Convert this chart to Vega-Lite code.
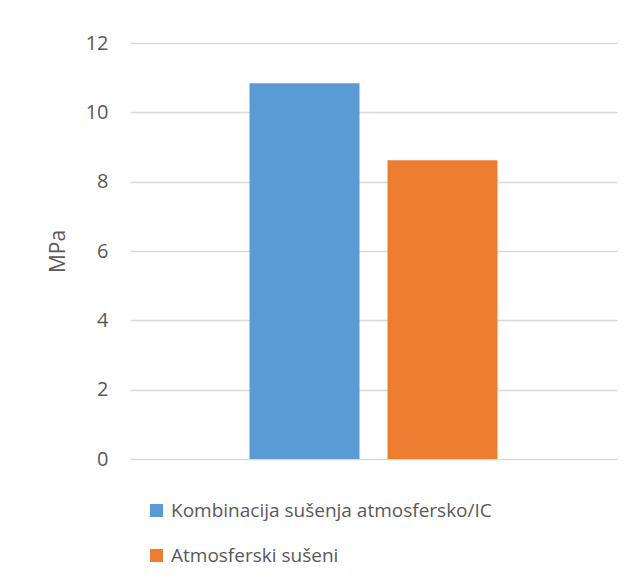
{
  "$schema": "https://vega.github.io/schema/vega-lite/v6.json",
  "width": 487,
  "height": 416,
  "autosize": {"type": "none"},
  "padding": {"left": 130, "top": 43, "right": 18, "bottom": 125},
  "background": "white",
  "data": {
    "values": [
      {"series": "Kombinacija sušenja atmosfersko/IC", "value": 10.84},
      {"series": "Atmosferski sušeni", "value": 8.62}
    ]
  },
  "mark": {"type": "bar"},
  "encoding": {
    "x": {
      "field": "series",
      "type": "nominal",
      "sort": null,
      "scale": {"paddingInner": 0.203, "paddingOuter": 0.866},
      "axis": null
    },
    "y": {
      "field": "value",
      "type": "quantitative",
      "scale": {"domain": [0, 12]},
      "axis": {
        "title": "MPa",
        "values": [0, 2, 4, 6, 8, 10, 12],
        "ticks": false,
        "tickSize": 0,
        "domain": false,
        "grid": true,
        "gridColor": "#D9D9D9",
        "gridWidth": 1.3,
        "labelFont": "Open Sans",
        "labelFontSize": 20,
        "labelColor": "#595959",
        "labelPadding": 22,
        "titleFont": "Open Sans",
        "titleFontSize": 21,
        "titleFontWeight": "normal",
        "titleColor": "#595959",
        "titlePadding": 17
      }
    },
    "color": {
      "field": "series",
      "type": "nominal",
      "sort": null,
      "scale": {"range": ["#5B9BD5", "#ED7D31"]},
      "legend": {
        "title": null,
        "orient": "none",
        "legendX": 17,
        "legendY": 458,
        "direction": "vertical",
        "symbolType": "square",
        "symbolSize": 169,
        "symbolStrokeWidth": 0,
        "labelFont": "Open Sans",
        "labelFontSize": 19,
        "labelColor": "#595959",
        "labelOffset": 5,
        "labelLimit": 600,
        "rowPadding": 25
      }
    }
  },
  "config": {"view": {"stroke": null}}
}
